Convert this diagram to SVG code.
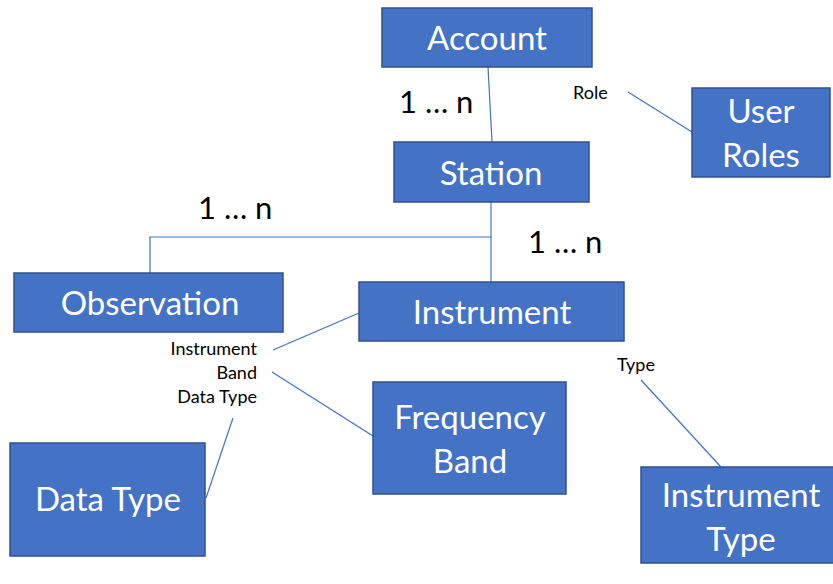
<svg xmlns="http://www.w3.org/2000/svg" width="833" height="584" viewBox="0 0 833 584">
<style>
.box{fill:#4472C4;stroke:#2F528F;stroke-width:1.5}
.t{font-family:Lato,"Liberation Sans",sans-serif;font-size:33px;fill:#fff;text-anchor:middle}
.c{stroke:#4472C4;stroke-width:1.2;fill:none}
.m{font-family:Lato,"Liberation Sans",sans-serif;font-size:31px;fill:#000}
.s{font-family:Lato,"Liberation Sans",sans-serif;font-size:18px;fill:#000}
</style>
<rect width="833" height="584" fill="#fff"/>
<g id="connectors">
<line class="c" x1="488" y1="67" x2="492" y2="142"/>
<line class="c" x1="628" y1="92" x2="692" y2="132"/>
<line class="c" x1="491" y1="202" x2="491" y2="282"/>
<polyline class="c" points="491,237 150,237 150,273"/>
<line class="c" x1="273" y1="350" x2="359" y2="313"/>
<line class="c" x1="272" y1="372" x2="373" y2="436"/>
<line class="c" x1="233" y1="418" x2="206" y2="498"/>
<line class="c" x1="641" y1="380" x2="721" y2="467"/>
</g>
<g id="labels">
<text class="m" x="399" y="113">1 … n</text>
<text class="m" x="198" y="219">1 … n</text>
<text class="m" x="528" y="253">1 … n</text>
<text class="s" x="573" y="99">Role</text>
<text class="s" x="617" y="371">Type</text>
<text class="s" x="257" y="355" text-anchor="end">Instrument</text>
<text class="s" x="257" y="379" text-anchor="end">Band</text>
<text class="s" x="257" y="403" text-anchor="end">Data Type</text>
</g>
<g id="account"><rect class="box" x="382" y="8" width="210" height="59"/><text class="t" x="487" y="50">Account</text></g>
<g id="station"><rect class="box" x="394" y="142" width="195" height="60"/><text class="t" x="491" y="185">Station</text></g>
<g id="user-roles"><rect class="box" x="692" y="88" width="138" height="89"/><text class="t" x="761" y="123">User</text><text class="t" x="761" y="167">Roles</text></g>
<g id="observation"><rect class="box" x="14" y="273" width="269" height="59"/><text class="t" x="150" y="315">Observation</text></g>
<g id="instrument"><rect class="box" x="359" y="282" width="265" height="59"/><text class="t" x="492" y="324">Instrument</text></g>
<g id="frequency-band"><rect class="box" x="373" y="382" width="193" height="112"/><text class="t" x="470" y="429">Frequency</text><text class="t" x="470" y="473">Band</text></g>
<g id="data-type"><rect class="box" x="10" y="443" width="195" height="113"/><text class="t" x="108" y="511">Data Type</text></g>
<g id="instrument-type"><rect class="box" x="641" y="467" width="194" height="96"/><text class="t" x="741" y="507">Instrument</text><text class="t" x="741" y="551">Type</text></g>
</svg>
